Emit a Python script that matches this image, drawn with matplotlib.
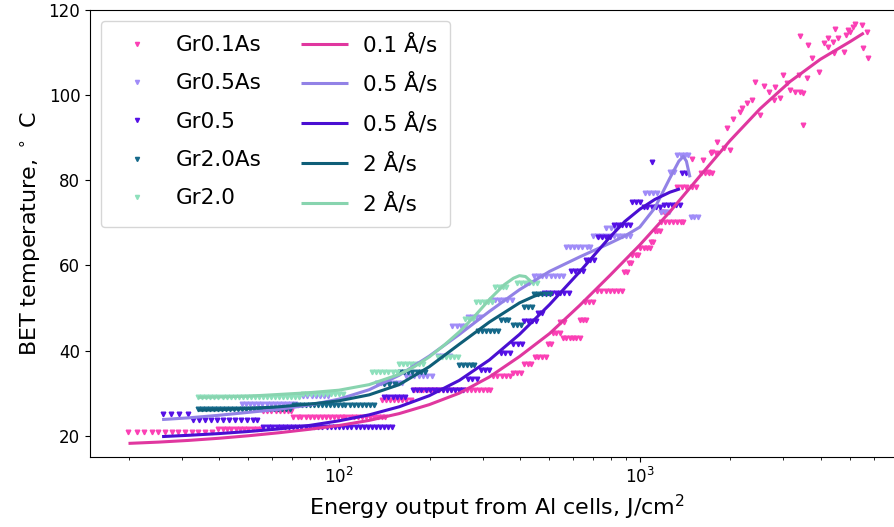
import matplotlib
matplotlib.use("Agg")
import matplotlib.pyplot as plt

# Measured BET temperature vs. cumulative energy, grouped in runs of equal temperature:
# (temperature, [energies])
gr01as_runs = [
    (20.8, [19.9, 21.3, 22.5, 23.9, 25.0, 26.4, 27.8, 29.1, 30.8, 32.4, 34.0, 35.8, 37.8]),
    (21.6, [39.6, 41, 42.4, 43.8, 45.3, 46.8, 48.4, 50, 51.7, 53.4, 55.0]),
    (25.7, [56, 57.8, 59.6, 61.5, 63.4, 65.4, 67.4, 69.3]),
    (24.5, [70.5, 72.8, 75, 77.4, 79.8, 82.3, 84.9, 87.5, 90.2, 93, 96, 99, 102, 105,
            108.5, 112, 115.5, 119, 123, 127, 131, 135, 139, 142]),
    (28.4, [139, 143, 147.5, 152, 157, 162, 167, 173]),
    (30.8, [178, 184, 190, 196, 202, 208, 215, 222, 229, 236, 243, 251, 259, 267, 275,
            284, 293, 302, 311, 318]),
    (34.1, [325, 336, 347, 358, 370]),
    (34.8, [380, 392, 403]),
    (36.9, [412, 424, 436]),
    (38.5, [447, 460, 473, 486]),
    (41.6, [497, 508]),
    (44.2, [515, 528, 541]),
    (43.0, [555, 570, 585, 600, 615, 633]),
    (46.6, [545, 558]),
    (47.3, [635, 650, 665]),
    (51.3, [660, 680, 700]),
    (54.0, [720, 745, 770, 795, 820, 848, 875]),
    (58.4, [885, 905]),
    (60.5, [920, 935]),
    (62.4, [945, 970, 990]),
    (64.0, [1000, 1030, 1060, 1085]),
    (65.4, [1090, 1110]),
    (68.2, [1120, 1145, 1165]),
    (70.1, [1180, 1215, 1250, 1290, 1330, 1370, 1395]),
    (72.5, [1175, 1200]),
    (78.4, [1330, 1380, 1430, 1490, 1540]),
    (81.6, [1600, 1650, 1700, 1745]),
    (86.4, [1720, 1790]),
]
gr01as_e = [1493, 1617, 1680, 1745, 1800, 1911, 1996, 1950, 2040, 2155, 2190, 2275, 2365,
            2512, 2420, 2590, 2690, 2800, 2928, 2820, 3000, 3090, 3161, 3290, 3412, 3490,
            3385, 3600, 3490, 3412, 3630, 3745, 3930, 4085, 4210, 4410, 4375, 4545, 4760,
            4835, 5004, 5120, 5200, 5490, 5710, 5530, 5745, 4475, 4910, 4210]
gr01as_t = [84.9, 84.7, 81.9, 86.6, 89.0, 87.5, 87.0, 92.2, 94.3, 96.0, 96.9, 98.1, 98.8,
            95.3, 103.1, 102.1, 100.7, 98.8, 99.3, 101.9, 104.7, 102.8, 101.2, 100.7, 100.7,
            100.5, 104.7, 104.0, 93.0, 113.9, 111.8, 108.7, 105.4, 112.2, 111.3, 109.9,
            112.5, 113.4, 110.1, 114.1, 114.8, 116.0, 116.7, 116.5, 114.8, 111.1, 108.7,
            115.5, 115.3, 113.4]

gr05as_runs = [
    (27.4, [47.5, 49, 50.6, 52.2, 53.9, 55.6, 57.4, 59.2, 61.1, 63, 65, 67.1, 69.2, 71.4]),
    (29.4, [73.6, 76, 78.5, 81, 83.6, 86.3, 89.1, 92]),
    (32.5, [134, 138, 142, 147, 152, 157, 162]),
    (34.0, [167, 172, 178, 184, 190, 196, 203]),
    (38.8, [213, 220, 227, 234]),
    (45.7, [238, 246, 254, 262]),
    (47.8, [268, 276, 285, 294]),
    (51.8, [320, 330, 341, 352, 363, 375]),
    (57.6, [445, 459, 474, 489, 505, 521, 538, 556]),
    (64.3, [568, 586, 605, 625, 645, 666, 683]),
    (66.8, [700, 722, 745, 769, 794, 820, 846, 873, 901, 930]),
    (68.7, [775, 800, 828]),
    (77.0, [1040, 1075, 1110, 1145]),
    (72.5, [1180, 1215, 1250]),
    (82.0, [1265, 1300]),
    (86.0, [1330, 1370, 1410, 1450]),
    (71.3, [1480, 1520, 1560]),
]

gr05_runs = [
    (25.2, [26.0, 27.6, 29.4, 31.5]),
    (23.8, [32.7, 34.3, 35.8, 37.5, 39.3, 41.1, 43.0, 45.0, 47.2, 49.4, 51.7, 53.3]),
    (22.1, [56, 58, 60, 62, 64, 66, 68, 70.2, 72.5, 75, 77.4, 80, 82.5, 85.2, 88, 91, 94,
            97, 100, 103, 106.5, 110, 113.5, 117, 121, 125, 129, 133, 137, 141.5, 146, 150.5]),
    (29.0, [141, 146, 151, 156, 161, 166]),
    (30.7, [176, 182, 188, 194, 200, 207, 214, 221, 228, 235, 243, 251, 259]),
    (33.4, [268, 277, 287]),
    (35.5, [296, 306, 316]),
    (39.5, [345, 357, 369]),
    (41.6, [380, 393, 405]),
    (47.0, [412, 425, 438, 452]),
    (48.9, [460, 472]),
    (53.5, [482, 497, 512, 528, 545, 562, 580]),
    (58.8, [590, 608, 627, 647]),
    (61.2, [665, 685, 705]),
    (66.6, [725, 748, 772, 797]),
    (69.6, [820, 845, 872, 900, 925]),
    (74.8, [940, 970, 1000]),
    (73.8, [1030, 1060, 1095, 1130, 1165]),
    (74.1, [1200, 1240, 1280, 1320, 1360]),
    (84.2, [1100]),
    (81.6, [1380, 1420]),
]

gr20as_runs = [
    (26.3, [34, 35, 36.1, 37.2, 38.3, 39.5, 40.7, 42, 43.3, 44.6, 46, 47.4, 48.9, 50.4, 52,
            53.6, 55.2, 57, 58.8, 60.6, 62.5, 64.4, 66.4, 68.5]),
    (27.2, [70.8, 73, 75.3, 77.6, 80, 82.5, 85, 87.7, 90.4, 93.2, 96, 99, 102, 105, 108.5,
            112, 115.5, 119, 122.5, 126.5, 130.5]),
    (32.2, [141, 147, 153]),
    (35.0, [160, 165, 170, 175, 181, 187, 193]),
    (36.5, [250, 258, 266, 274, 282]),
    (44.7, [290, 299, 308, 318, 328, 338]),
    (47.2, [345, 355, 366]),
    (45.9, [380, 392, 404]),
    (50.3, [412, 425, 438]),
    (53.4, [445, 459, 474, 489, 503]),
]

gr20_runs = [
    (29.0, [34, 35.1, 36.2, 37.3, 38.5, 39.7, 41, 42.3, 43.6, 45, 46.4, 47.8, 49.3, 50.9,
            52.5, 54.1, 55.8, 57.6, 59.4, 61.2, 63.1, 65.1, 67.2, 69.3, 71.5, 73.7]),
    (29.8, [76, 78.4, 80.8, 83.3, 86, 88.6, 91.4, 94.2, 97.2, 100.2, 103.3]),
    (35.0, [129, 133, 137, 141, 146, 151, 156]),
    (36.8, [158, 163, 168, 173, 179, 185, 190]),
    (38.6, [213, 220, 227, 234, 241, 249]),
    (47.5, [262, 270, 278]),
    (51.4, [285, 294, 303, 312, 322]),
    (54.9, [330, 340, 350, 360]),
    (55.8, [392, 404, 416, 429, 442, 455]),
]

# smoothed fits for each deposition rate
fit01_e = [19.95, 25.1, 31.6, 39.8, 50.1, 63.1, 79.4, 100, 125.9, 158.5, 199.5, 251.2, 316.2,
           398.1, 501.2, 631, 794.3, 1000, 1259, 1585, 1995, 2512, 3162, 3981, 5012, 5559]
fit01_t = [18.2, 18.5, 18.9, 19.4, 20.0, 20.7, 21.5, 22.4, 23.6, 25.2, 27.3, 30.0, 33.8,
           38.6, 44.0, 50.6, 57.6, 64.8, 72.6, 81.0, 89.3, 96.8, 103.2, 108.4, 112.6, 114.6]
fit05as_e = [25.8, 31.6, 39.8, 50.1, 63.1, 79.4, 100, 125.9, 158.5, 199.5, 251.2, 316.2,
             398.1, 501.2, 631, 794.3, 891, 1000, 1122, 1259, 1349, 1396, 1429, 1469]
fit05as_t = [23.8, 24.2, 24.8, 25.5, 26.2, 27.2, 28.6, 30.8, 34.2, 38.7, 43.8, 49.2,
             54.3, 58.6, 62.0, 65.2, 66.9, 69.0, 73.5, 80.5, 84.5, 85.6, 84.5, 80.7]
fit05_e = [25.8, 31.6, 39.8, 50.1, 63.1, 79.4, 100, 125.9, 158.5, 199.5, 251.2, 316.2,
           398.1, 501.2, 631, 794.3, 891, 1000, 1122, 1259, 1361]
fit05_t = [19.8, 20.1, 20.5, 21.0, 21.6, 22.4, 23.5, 24.9, 26.8, 29.4, 33.0, 37.8,
           43.8, 50.8, 58.5, 66.6, 70.3, 73.2, 75.5, 77.2, 78.0]
fit20as_e = [34.0, 39.8, 50.1, 63.1, 79.4, 100, 125.9, 158.5, 199.5, 251.2, 316.2, 398.1,
             446.7, 476.4]
fit20as_t = [26.0, 26.1, 26.4, 26.8, 27.4, 28.2, 29.6, 32.0, 36.2, 41.5, 46.7, 51.2,
             52.8, 53.4]
fit20_e = [34.0, 39.8, 50.1, 63.1, 79.4, 100, 125.9, 158.5, 177.8, 199.5, 223.9, 251.2,
           281.8, 316.2, 354.8, 380.2, 398.1, 416.9, 441.6]
fit20_t = [29.0, 29.1, 29.3, 29.7, 30.1, 30.7, 32.0, 34.4, 36.2, 38.5, 41.3, 44.4,
           48.0, 52.0, 55.5, 57.0, 57.6, 57.4, 55.8]


def flatten(runs):
    e, t = [], []
    for temp, energies in runs:
        e += energies
        t += [temp] * len(energies)
    return e, t


e01, t01 = flatten(gr01as_runs)
e01 += gr01as_e
t01 += gr01as_t
e05as, t05as = flatten(gr05as_runs)
e05, t05 = flatten(gr05_runs)
e20as, t20as = flatten(gr20as_runs)
e20, t20 = flatten(gr20_runs)

fig = plt.figure(figsize=(8.94, 5.27), dpi=100)
ax = fig.add_axes([0.1007, 0.1328, 0.9116, 0.8482])

ms = 3.3
ax.plot(e01, t01, 'v', ms=ms, color='#fb40b5', label='Gr0.1As')
ax.plot(e05as, t05as, 'v', ms=ms, color='#a08cf8', label='Gr0.5As')
ax.plot(e05, t05, 'v', ms=ms, color='#5510e6', label='Gr0.5')
ax.plot(e20as, t20as, 'v', ms=ms, color='#15698a', label='Gr2.0As')
ax.plot(e20, t20, 'v', ms=ms, color='#8ee0bc', label='Gr2.0')

lw = 2.2
kw = dict(lw=lw, solid_joinstyle='round', solid_capstyle='butt')
ax.plot(fit01_e, fit01_t, color='#e0379f', label='0.1 Å/s', **kw)
ax.plot(fit05as_e, fit05as_t, color='#9282e6', label='0.5 Å/s', **kw)
ax.plot(fit05_e, fit05_t, color='#4a0fd2', label='0.5 Å/s', **kw)
ax.plot(fit20as_e, fit20as_t, color='#0f5e78', label='2 Å/s', **kw)
ax.plot(fit20_e, fit20_t, color='#88d4af', label='2 Å/s', **kw)

ax.set_xscale('log')
ax.set_xlim(14.86, 7620)
ax.set_ylim(15, 120)
ax.tick_params(labelsize=12)
ax.set_xlabel('Energy output from Al cells, J/cm$^2$', fontsize=16)
ax.set_ylabel('BET temperature, $^\\circ$ C', fontsize=16)
ax.legend(loc='upper left', ncol=2, fontsize=15.5, markerscale=0.9, labelspacing=0.85,
          borderpad=0.6, handlelength=2.2, handletextpad=0.7, columnspacing=1.8)

fig.savefig('out.png', dpi=100)
